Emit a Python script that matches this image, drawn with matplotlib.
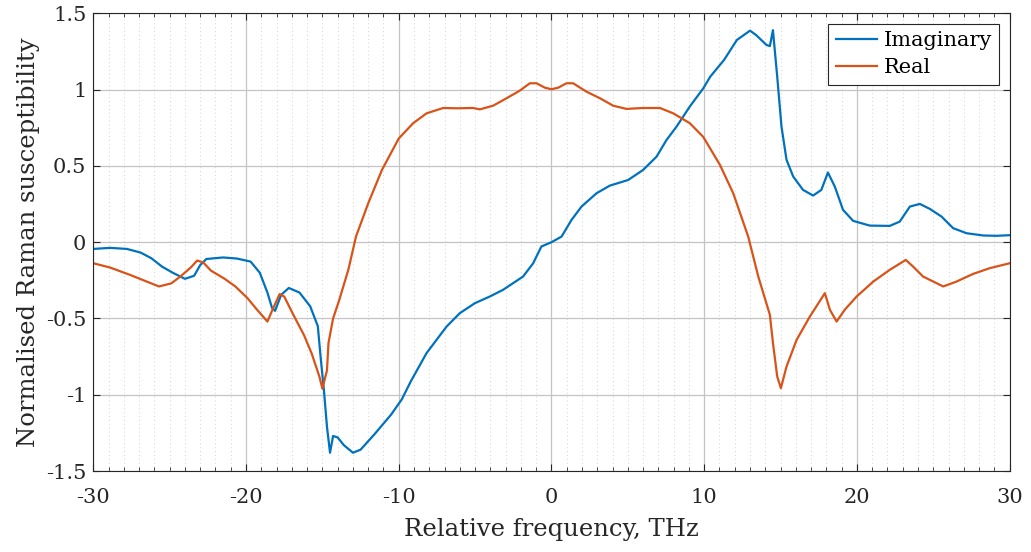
import numpy as np
import matplotlib.pyplot as plt

# Imaginary part
imag_x = [-30, -28.9, -27.8, -26.9, -26.2, -25.5, -24.8, -24.0, -23.4, -23.0, -22.6,
          -21.5, -20.6, -19.7, -19.1, -18.6, -18.3, -18.1, -17.7, -17.2, -16.5, -15.8,
          -15.3, -15.1, -14.9, -14.7, -14.5, -14.3, -14.0, -13.6, -13.0, -12.5, -11.6,
          -10.5, -9.8, -9.2, -8.18, -6.87, -6.0, -5.02, -4.04, -3.17, -1.86, -1.2, -0.66,
          0, 0.66, 1.31, 1.97, 2.95, 3.82, 5.02, 6.0, 6.88, 7.53, 8.19, 9.06, 9.94,
          10.4, 11.3, 12.14, 13.0, 13.4, 14.08, 14.3, 14.5, 14.78, 15.06, 15.39, 15.83,
          16.47, 17.13, 17.67, 18.1, 18.55, 19.09, 19.75, 20.84, 22.15, 22.8, 23.47,
          24.12, 24.78, 25.54, 26.3, 27.18, 28.27, 29.14, 30.0]
imag_y = [-0.044, -0.037, -0.044, -0.068, -0.105, -0.16, -0.20, -0.24, -0.22, -0.15, -0.11,
          -0.10, -0.107, -0.127, -0.20, -0.33, -0.43, -0.45, -0.345, -0.30, -0.33, -0.42,
          -0.55, -0.77, -0.97, -1.21, -1.38, -1.27, -1.28, -1.33, -1.38, -1.36, -1.26,
          -1.13, -1.03, -0.91, -0.727, -0.553, -0.465, -0.40, -0.356, -0.312, -0.225, -0.138, -0.028,
          0.0, 0.037, 0.146, 0.234, 0.321, 0.371, 0.408, 0.474, 0.561, 0.67, 0.758, 0.89, 1.009,
          1.086, 1.195, 1.326, 1.387, 1.358, 1.293, 1.286, 1.39, 1.086, 0.758, 0.54, 0.43,
          0.343, 0.306, 0.343, 0.457, 0.365, 0.212, 0.14, 0.109, 0.107, 0.135, 0.234,
          0.251, 0.218, 0.168, 0.092, 0.059, 0.044, 0.042, 0.046]

# Real part
real_x = [-30, -28.9, -27.6, -26.7, -25.7, -24.9, -24.3, -23.6, -23.2, -22.8, -22.3,
          -21.4, -20.7, -19.9, -19.3, -18.6, -18.3, -17.8, -17.5, -16.9, -16.2, -15.7,
          -15.2, -15.0, -14.7, -14.6, -14.3, -13.9, -13.3, -12.8, -12.0, -11.1, -10.0,
          -9.06, -8.18, -7.09, -6.22, -5.13, -4.69, -3.82, -2.94, -2.07, -1.42, -0.98,
          -0.43, 0, 0.44, 0.98, 1.42, 2.29, 3.17, 4.04, 4.91, 6.0, 7.1, 7.97, 9.06, 9.94,
          11.03, 11.9, 12.88, 13.54, 14.3, 14.5, 14.78, 15.02, 15.39, 16.05, 16.92, 17.9,
          18.23, 18.67, 19.2, 19.98, 21.07, 22.15, 23.2, 23.68, 24.33, 25.65, 26.52,
          27.6, 28.7, 30.0]
real_y = [-0.138, -0.166, -0.214, -0.25, -0.29, -0.27, -0.225, -0.164, -0.12, -0.133, -0.186,
          -0.24, -0.29, -0.367, -0.44, -0.52, -0.45, -0.34, -0.356, -0.476, -0.61, -0.73,
          -0.88, -0.96, -0.84, -0.66, -0.50, -0.38, -0.18, 0.037, 0.255, 0.474, 0.68,
          0.78, 0.845, 0.88, 0.878, 0.88, 0.871, 0.895, 0.944, 0.994, 1.042, 1.042,
          1.013, 1.003, 1.013, 1.042, 1.042, 0.987, 0.944, 0.895, 0.874, 0.88, 0.88, 0.845, 0.78, 0.69,
          0.507, 0.321, 0.037, -0.225, -0.476, -0.66, -0.88, -0.957, -0.815, -0.64, -0.487, -0.334,
          -0.443, -0.52, -0.443, -0.356, -0.258, -0.181, -0.116, -0.16, -0.225, -0.29, -0.258,
          -0.208, -0.17, -0.138]

plt.rcParams['font.family'] = ['DejaVu Serif']

fig = plt.figure(figsize=(10.31, 5.52), dpi=100)
ax = fig.add_axes([0.0905, 0.1467, 0.8888, 0.829])

ax.plot(imag_x, imag_y, color='#0072BD', lw=1.6, label='Imaginary')
ax.plot(real_x, real_y, color='#D95319', lw=1.6, label='Real')

ax.set_xlim(-30, 30)
ax.set_ylim(-1.5, 1.5)
ax.set_xticks(np.arange(-30, 31, 10))
ax.set_xticks(np.arange(-30, 31, 1), minor=True)
ax.set_yticks(np.arange(-1.5, 1.51, 0.5))
ax.set_yticklabels(['-1.5', '-1', '-0.5', '0', '0.5', '1', '1.5'])
ax.set_xticklabels(['-30', '-20', '-10', '0', '10', '20', '30'])

ax.grid(which='major', color='#c4c4c4', lw=0.9)
ax.grid(which='minor', axis='x', color='#d4d4d4', lw=0.7, ls=(0, (1, 3)))
ax.set_axisbelow(True)
ax.tick_params(which='both', direction='in', top=True, right=True, labelsize=15, colors='#262626')
ax.tick_params(which='major', length=5)
ax.tick_params(which='minor', length=3)
ax.tick_params(axis='x', which='major', pad=12)
ax.tick_params(axis='y', which='major', pad=5)
for s in ax.spines.values():
    s.set_color('#262626')
    s.set_linewidth(0.8)

ax.set_xlabel('Relative frequency, THz', fontsize=17.5, color='#262626', labelpad=8)
ax.set_ylabel('Normalised Raman susceptibility', fontsize=17.5, color='#262626', labelpad=4)

leg = ax.legend(loc='upper right', fontsize=15, fancybox=False, framealpha=1,
                edgecolor='#262626', handlelength=2.0, borderaxespad=0.5,
                labelspacing=0.4, handletextpad=0.3, borderpad=0.35)
leg.get_frame().set_linewidth(0.8)

fig.savefig('out.png', dpi=100)
